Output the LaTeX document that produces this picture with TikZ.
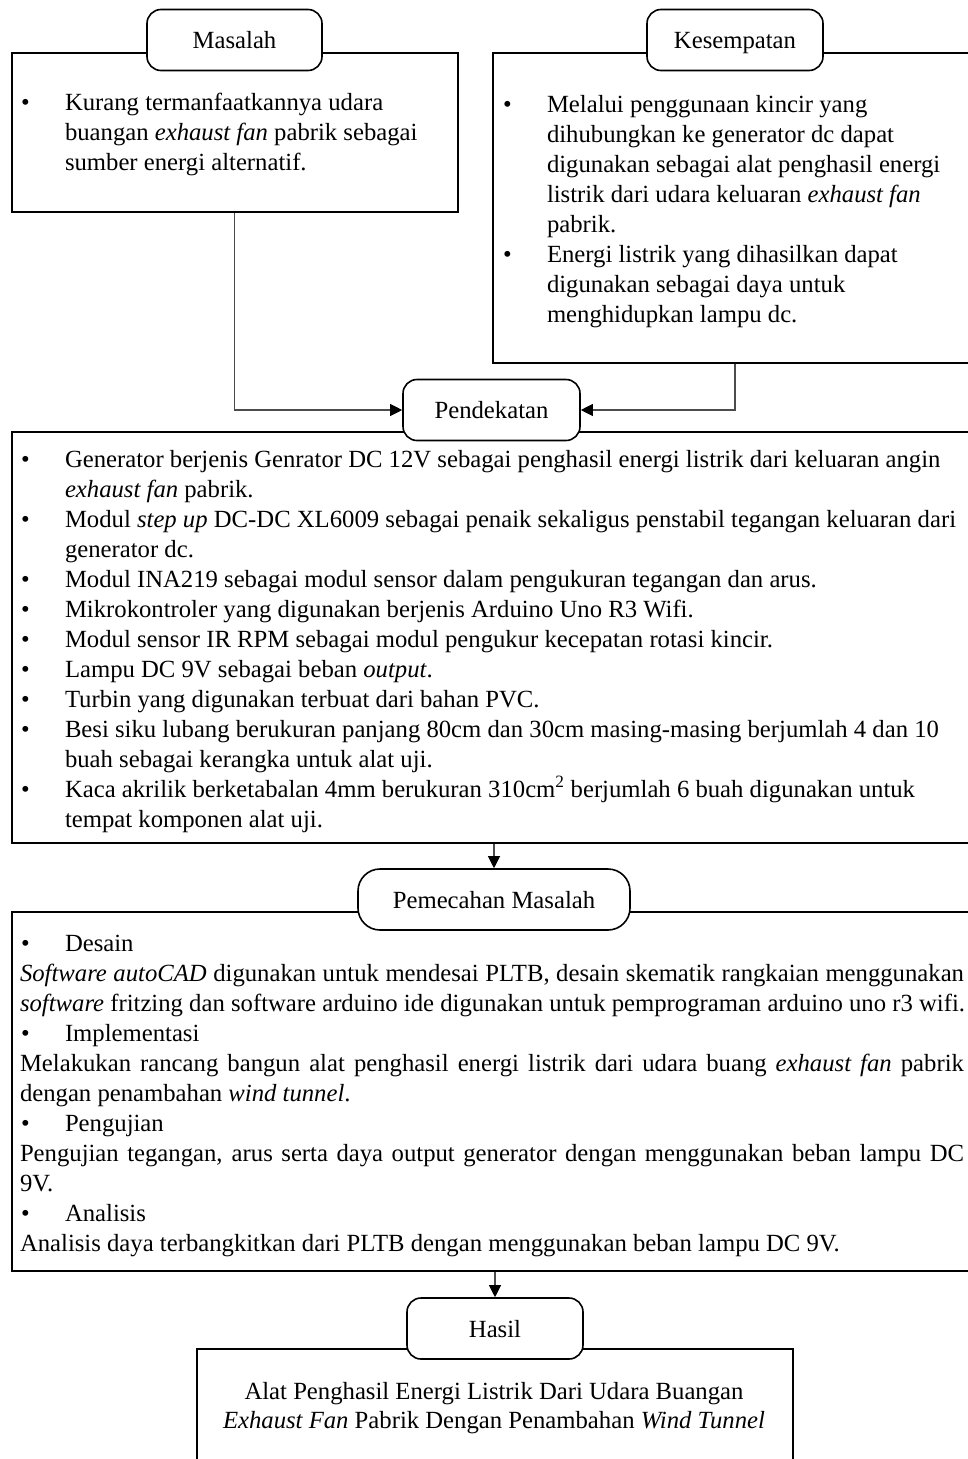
\documentclass[tikz,border=0pt]{standalone}
\usepackage{fontspec}
\setmainfont{Liberation Serif}
\usetikzlibrary{arrows.meta}
\newcommand\TL[4]{\node[txt] (#1) at (#2,#3) {#4};}
\newcommand\JL[4]{\node[txt] (#1) at (#2,#3) {\makebox[944pt][s]{#4}};}
\newcommand\BI[5]{\node[txt] (#1b) at (#2,#5) {\textbullet};\node[txt] (#1) at (#3,#5) {#4};}
\begin{document}
\begin{tikzpicture}[x=1pt,y=-1pt,
 txt/.style={anchor=base west, inner sep=0pt, outer sep=0pt, font=\fontsize{24.7}{30}\selectfont},
 ctxt/.style={txt, anchor=base},
 bigbox/.style={draw, line width=1.6pt, anchor=north west, inner sep=0pt},
 lab/.style={draw, line width=1.6pt, fill=white, rounded corners=14pt, inner sep=0pt, minimum height=61pt, text height=22pt, text depth=5pt, font=\fontsize{24.7}{30}\selectfont},
 conn/.style={draw=black!70, line width=1.1pt},
 arr/.style={conn, -{Triangle[length=12pt,width=12pt,fill=black,color=black]}}]
\useasboundingbox (0,0) rectangle (968,1459);
\clip (0,0) rectangle (968,1459);
% big boxes
\node[bigbox, minimum width=446pt, minimum height=159pt] (mbox) at (11,52) {};
\node[bigbox, minimum width=486pt, minimum height=310pt] (kbox) at (492,52) {};
\node[bigbox, minimum width=970pt, minimum height=411pt] (pbox) at (11,431) {};
\node[bigbox, minimum width=970pt, minimum height=359pt] (qbox) at (11,911) {};
\node[bigbox, minimum width=596pt, minimum height=140pt] (hbox) at (196,1348) {};
% labels
\node[lab, minimum width=175pt] (mlab) at (234.5,40) {Masalah};
\node[lab, minimum width=176pt] (klab) at (735,40) {Kesempatan};
\node[lab, minimum width=177pt] (plab) at (491.5,410) {Pendekatan};
\node[lab, minimum width=272pt, rounded corners=22pt] (qlab) at (494,899.5) {Pemecahan Masalah};
\node[lab, minimum width=176pt] (hlab) at (495,1328.5) {Hasil};
% connectors
\draw[arr] (mbox.south) |- (plab.west);
\draw[arr] (kbox.south -| klab.center) |- (plab.east);
\draw[arr] (pbox.south -| qlab.north) -- (qlab.north);
\draw[arr] (qbox.south -| hlab.north) -- (hlab.north);
% Masalah text
\BI{m1}{21}{65}{Kurang termanfaatkannya udara}{110}
\TL{m2}{65}{140}{buangan \textit{exhaust fan} pabrik sebagai}
\TL{m3}{65}{170}{sumber energi alternatif.}
% Kesempatan text
\BI{k1}{503}{547}{Melalui penggunaan kincir yang}{112}
\TL{k2}{547}{142}{dihubungkan ke generator dc dapat}
\TL{k3}{547}{172}{digunakan sebagai alat penghasil energi}
\TL{k4}{547}{202}{listrik dari udara keluaran \textit{exhaust fan}}
\TL{k5}{547}{232}{pabrik.}
\BI{k6}{503}{547}{Energi listrik yang dihasilkan dapat}{262}
\TL{k7}{547}{292}{digunakan sebagai daya untuk}
\TL{k8}{547}{322}{menghidupkan lampu dc.}
% Pendekatan text
\BI{p1}{21}{65}{Generator berjenis Genrator DC 12V sebagai penghasil energi listrik dari keluaran angin}{467}
\TL{p2}{65}{497}{\textit{exhaust fan} pabrik.}
\BI{p3}{21}{65}{Modul \textit{step up} DC-DC XL6009 sebagai penaik sekaligus penstabil tegangan keluaran dari}{527}
\TL{p4}{65}{557}{generator dc.}
\BI{p5}{21}{65}{Modul INA219 sebagai modul sensor dalam pengukuran tegangan dan arus.}{587}
\BI{p6}{21}{65}{Mikrokontroler yang digunakan berjenis Arduino Uno R3 Wifi.}{617}
\BI{p7}{21}{65}{Modul sensor IR RPM sebagai modul pengukur kecepatan rotasi kincir.}{647}
\BI{p8}{21}{65}{Lampu DC 9V sebagai beban \textit{output}.}{677}
\BI{p9}{21}{65}{Turbin yang digunakan terbuat dari bahan PVC.}{707}
\BI{p10}{21}{65}{Besi siku lubang berukuran panjang 80cm dan 30cm masing-masing berjumlah 4 dan 10}{737}
\TL{p11}{65}{767}{buah sebagai kerangka untuk alat uji.}
\BI{p12}{21}{65}{Kaca akrilik berketabalan 4mm berukuran 310cm\textsuperscript{2} berjumlah 6 buah digunakan untuk}{797}
\TL{p13}{65}{827}{tempat komponen alat uji.}
% Pemecahan text
\BI{q1}{21}{65}{Desain}{951}
\JL{q2}{20}{981}{\textit{Software autoCAD} digunakan untuk mendesai PLTB, desain skematik rangkaian menggunakan}
\TL{q3}{20}{1011}{\textit{software} fritzing dan software arduino ide digunakan untuk pemprograman arduino uno r3 wifi.}
\BI{q4}{21}{65}{Implementasi}{1041}
\JL{q5}{20}{1071}{Melakukan rancang bangun alat penghasil energi listrik dari udara buang \textit{exhaust fan} pabrik}
\TL{q6}{20}{1101}{dengan penambahan \textit{wind tunnel}.}
\BI{q7}{21}{65}{Pengujian}{1131}
\JL{q8}{20}{1161}{Pengujian tegangan, arus serta daya output generator dengan menggunakan beban lampu DC}
\TL{q9}{20}{1191}{9V.}
\BI{q10}{21}{65}{Analisis}{1221}
\TL{q11}{20}{1251}{Analisis daya terbangkitkan dari PLTB dengan menggunakan beban lampu DC 9V.}
% Hasil text
\node[ctxt] (h1) at (494,1399) {Alat Penghasil Energi Listrik Dari Udara Buangan};
\node[ctxt] (h2) at (494,1428) {\textit{Exhaust Fan} Pabrik Dengan Penambahan \textit{Wind Tunnel}};
\end{tikzpicture}
\end{document}
